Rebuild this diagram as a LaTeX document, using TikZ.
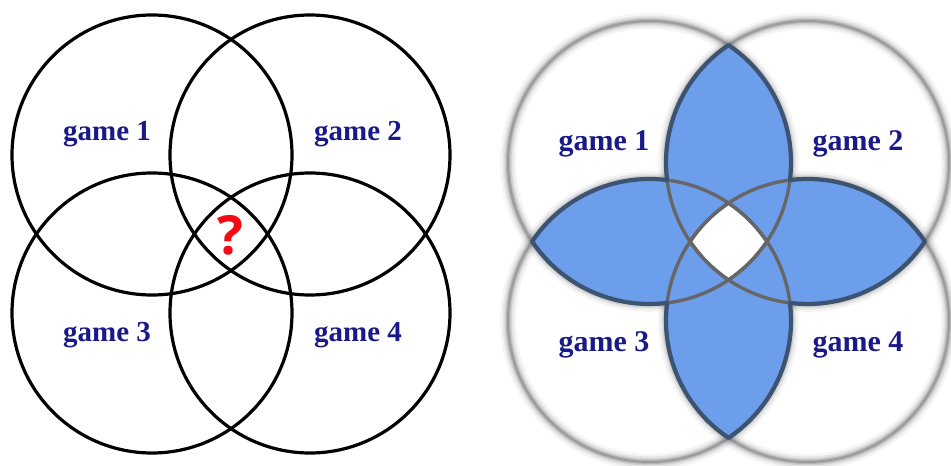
\documentclass[tikz,border=0pt]{standalone}
\usepackage{fontspec}
\setmainfont{Liberation Serif}
\newfontfamily\qfont{Open Sans}
\definecolor{navy}{RGB}{25,25,135}
\definecolor{qred}{RGB}{245,10,20}
\definecolor{petal}{HTML}{6D9EEB}
\definecolor{edge}{HTML}{3C5472}
\definecolor{inner}{HTML}{666666}
\definecolor{blur}{HTML}{555555}
\tikzset{
  lbl/.style={font=\bfseries\fontsize{29}{30}\selectfont, text=navy, inner sep=0pt, anchor=base},
  lblr/.style={font=\bfseries\fontsize{30}{32}\selectfont, text=navy, inner sep=0pt, anchor=base},
  ring/.style={draw=black, line width=3.2pt},
  soft/.style={draw=blur, line width=#1},
  innerarc/.style={draw=inner, line width=3.4pt},
  petaledge/.style={draw=edge, line width=4.2pt, line join=round}
}
\begin{document}
\begin{tikzpicture}[x=1pt,y=1pt]
\useasboundingbox (0,0) rectangle (951,466);
% ---------------- left diagram ----------------
\coordinate (a1) at (152,311);
\coordinate (a2) at (310,311);
\coordinate (a3) at (152,153);
\coordinate (a4) at (310,153);
\foreach \c in {a1,a2,a3,a4}{\draw[ring] (\c) circle[radius=140pt];}
\node[lbl] (g1) at (107,325) {game 1};
\node[lbl] (g2) at (358,325) {game 2};
\node[lbl] (g3) at (107,124) {game 3};
\node[lbl] (g4) at (358,124) {game 4};
\node[inner sep=0pt, text=qred, font=\qfont\bfseries\fontsize{54}{56}\selectfont] (q) at (230,231) {?};
% ---------------- right diagram ----------------
\coordinate (O) at (728.5,224.5);
\coordinate (b1) at (649.5,303.5);
\coordinate (b2) at (807.5,303.5);
\coordinate (b3) at (649.5,145.5);
\coordinate (b4) at (807.5,145.5);
% blurred outer circles
\foreach \c in {b1,b2,b3,b4}{
  \draw[soft=16pt, draw opacity=0.06] (\c) circle[radius=141.5pt];
  \draw[soft=11pt, draw opacity=0.10] (\c) circle[radius=141.5pt];
  \draw[soft=7pt, draw opacity=0.16] (\c) circle[radius=141.5pt];
  \draw[soft=4pt, draw opacity=0.22] (\c) circle[radius=141.5pt];
  \draw[soft=2pt, draw opacity=0.25] (\c) circle[radius=141.5pt];
}
% petals fill
\coordinate (T) at (728.5,420.89);
\fill[petal] (T) arc[start angle=56.06, end angle=-7.14, radius=141.5pt]
  arc[start angle=97.14, end angle=33.94, radius=141.5pt]
  arc[start angle=-33.94, end angle=-97.14, radius=141.5pt]
  arc[start angle=7.14, end angle=-56.06, radius=141.5pt]
  arc[start angle=-123.94, end angle=-187.14, radius=141.5pt]
  arc[start angle=-82.86, end angle=-146.06, radius=141.5pt]
  arc[start angle=146.06, end angle=82.86, radius=141.5pt]
  arc[start angle=187.14, end angle=123.94, radius=141.5pt] -- cycle;
% white centre
\begin{scope}
  \clip (b1) circle[radius=141.5pt];
  \clip (b2) circle[radius=141.5pt];
  \clip (b3) circle[radius=141.5pt];
  \clip (b4) circle[radius=141.5pt];
  \fill[white] (O) circle[radius=80pt];
\end{scope}
% inner grey arcs
\begin{scope}
  \clip (b1) circle[radius=141.5pt]; \clip (b2) circle[radius=141.5pt];
  \draw[innerarc] (b3) circle[radius=141.5pt]; \draw[innerarc] (b4) circle[radius=141.5pt];
\end{scope}
\begin{scope}
  \clip (b2) circle[radius=141.5pt]; \clip (b4) circle[radius=141.5pt];
  \draw[innerarc] (b1) circle[radius=141.5pt]; \draw[innerarc] (b3) circle[radius=141.5pt];
\end{scope}
\begin{scope}
  \clip (b3) circle[radius=141.5pt]; \clip (b4) circle[radius=141.5pt];
  \draw[innerarc] (b1) circle[radius=141.5pt]; \draw[innerarc] (b2) circle[radius=141.5pt];
\end{scope}
\begin{scope}
  \clip (b1) circle[radius=141.5pt]; \clip (b3) circle[radius=141.5pt];
  \draw[innerarc] (b2) circle[radius=141.5pt]; \draw[innerarc] (b4) circle[radius=141.5pt];
\end{scope}
% petal outline
\draw[petaledge] (T) arc[start angle=56.06, end angle=-7.14, radius=141.5pt]
  arc[start angle=97.14, end angle=33.94, radius=141.5pt]
  arc[start angle=-33.94, end angle=-97.14, radius=141.5pt]
  arc[start angle=7.14, end angle=-56.06, radius=141.5pt]
  arc[start angle=-123.94, end angle=-187.14, radius=141.5pt]
  arc[start angle=-82.86, end angle=-146.06, radius=141.5pt]
  arc[start angle=146.06, end angle=82.86, radius=141.5pt]
  arc[start angle=187.14, end angle=123.94, radius=141.5pt] -- cycle;
\node[lblr] (h1) at (604,315) {game 1};
\node[lblr] (h2) at (858,315) {game 2};
\node[lblr] (h3) at (604,114) {game 3};
\node[lblr] (h4) at (858,114) {game 4};
\end{tikzpicture}
\end{document}
